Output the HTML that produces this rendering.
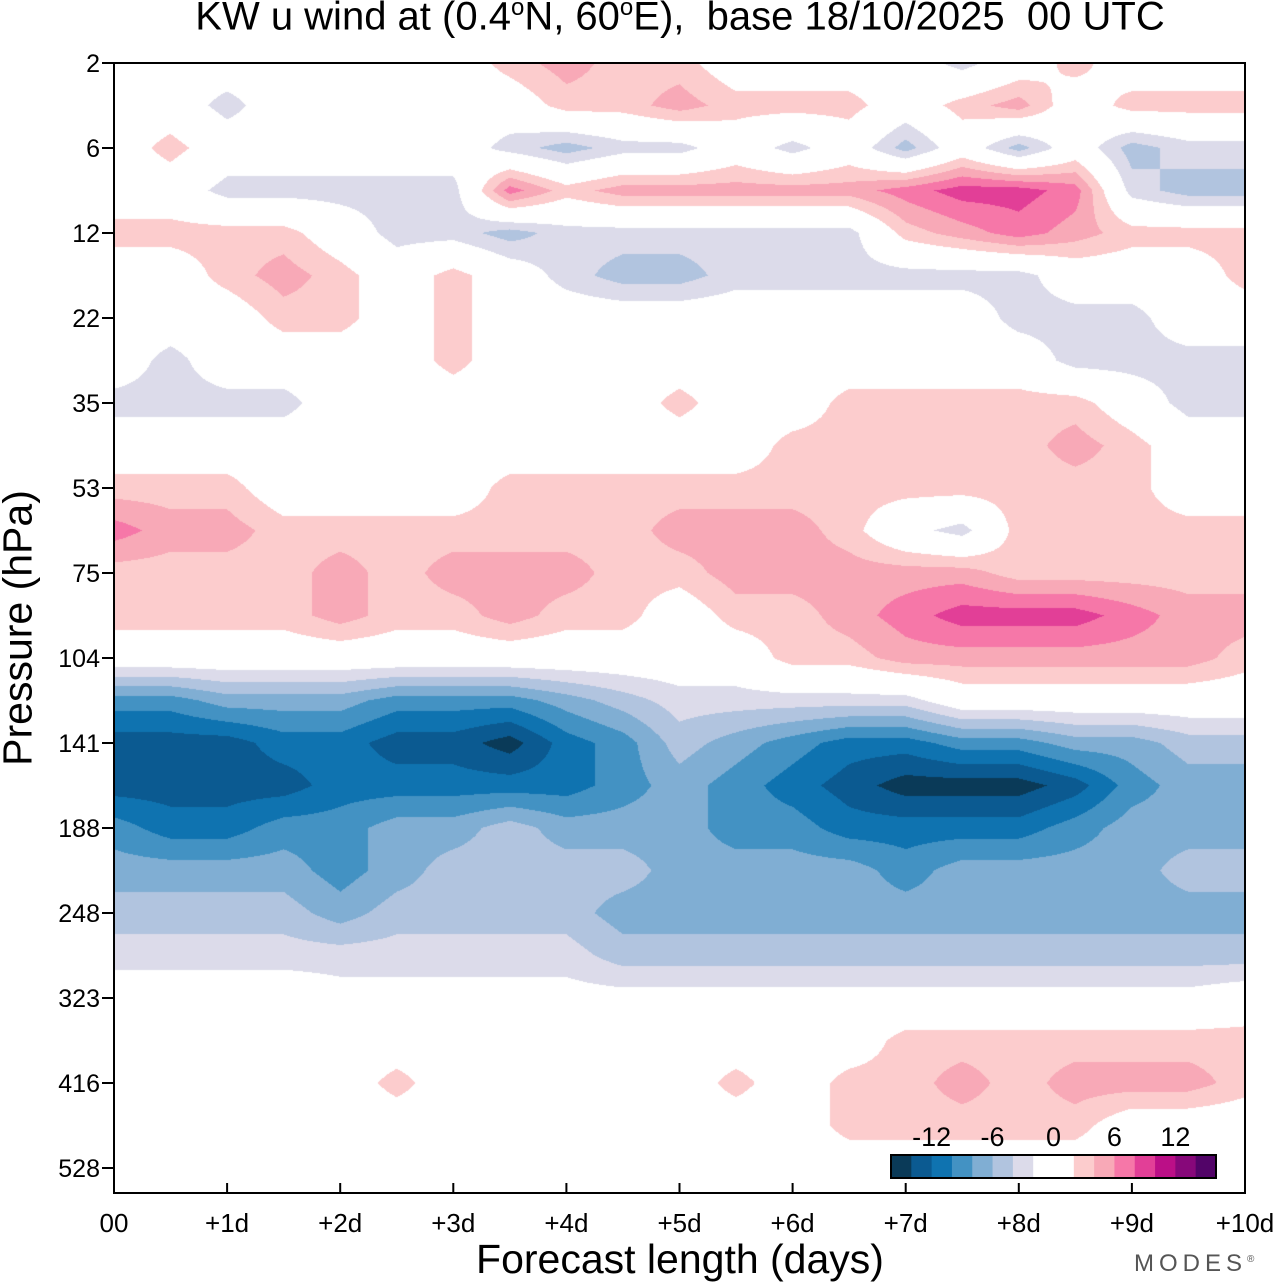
<!DOCTYPE html>
<html><head><meta charset="utf-8">
<style>
html,body{margin:0;padding:0;background:#fff;}
body{width:1280px;height:1286px;position:relative;overflow:hidden;font-family:"Liberation Sans",sans-serif;}
.t{position:absolute;white-space:nowrap;color:#000;}
</style></head>
<body>
<div class="t" style="left:0;width:1360px;text-align:center;top:-6px;font-size:40px;">KW u wind at (0.4<sup style="font-size:24px">o</sup>N, 60<sup style="font-size:24px">o</sup>E),&nbsp; base 18/10/2025&nbsp; 00 UTC</div>
<canvas id="cv" width="1131" height="1130" style="position:absolute;left:114px;top:63px;"></canvas>
<svg id="ax" width="1280" height="1286" style="position:absolute;left:0;top:0;"></svg>
<div class="t" style="left:18px;top:628px;font-size:41px;transform:translate(-50%,-50%) rotate(-90deg);transform-origin:center;">Pressure (hPa)</div>
<div class="t" style="left:680px;top:1236px;font-size:41px;transform:translateX(-50%);">Forecast length (days)</div>
<div class="t" style="left:1134px;top:1250px;font-size:24px;letter-spacing:5px;color:#555;">MODES<sup style="font-size:10px">®</sup></div>
<script>
const levelColors=["#0a3a58","#0b5a91","#0f73b0","#4392c3","#80aed3","#b1c4df","#dcdbea","#ffffff","#ffffff","#fccccd","#f8a9b7","#f677a8","#e23f97","#bb0f87","#87087a","#520468"];
const xTickLabels=["00","+1d","+2d","+3d","+4d","+5d","+6d","+7d","+8d","+9d","+10d"];
const yTickLabels=["2","6","12","22","35","53","75","104","141","188","248","323","416","528"];
const cbLabels=["-12","-6","0","6","12"];
const cbValues=[-12,-6,0,6,12];
// forecast times (days) for grid columns
const times=[0,0.5,1,1.5,2,2.5,3,3.5,4,4.5,5,5.5,6,6.5,7,7.5,8,8.5,9,9.5,10];
// rows are at pressure-axis positions (tick index units; 0=2hPa,1=6hPa,...)
const rowPos=[0,0.5,1,1.5,2,2.5,3,3.5,4,4.5,5,5.5,6,6.5,7,7.5,8,8.5,9,9.5,10,10.5,11,11.5,12,12.5,13,13.5];
const uWind=[
[0,0,0,0,0,0,0,3,5,3,3,0,0,0,0,-3,0,3,0,0,0],
[0,0,-3,0,0,0,0,0,3,3,5,3,3,3,0,3,5,0,3,3,3],
[0,3,0,0,0,0,0,-3,-5,-3,-3,0,-3,0,-5,0,-5,0,-5,-3,-3],
[0,0,-3,-3,-3,-3,-3,7,3,5,5,5,5,5,7,9,9,7,-3,-5,-5],
[3,3,3,3,0,-3,-3,-5,-3,-3,-3,-3,-3,-3,3,5,7,5,3,3,3],
[0,0,3,5,3,0,3,0,-3,-5,-5,-3,-3,-3,-3,-3,-3,0,0,0,3],
[0,0,0,3,3,0,3,0,0,0,0,0,0,0,0,0,-3,-3,-3,0,0],
[0,-3,0,0,0,0,3,0,0,0,0,0,0,0,0,0,0,-3,-3,-3,-3],
[-3,-3,-3,-3,0,0,0,0,0,0,3,0,0,3,3,3,3,3,0,-3,-3],
[0,0,0,0,0,0,0,0,0,0,0,0,3,3,3,3,3,5,3,0,0],
[3,3,3,0,0,0,0,3,3,3,3,3,3,3,3,3,3,3,3,0,0],
[7,5,5,3,3,3,3,3,3,3,5,5,5,3,-1,-3,3,3,3,3,3],
[3,3,3,3,5,3,5,5,5,3,3,5,5,5,5,5,3,3,3,3,3],
[3,3,3,3,5,3,3,5,3,3,0,3,3,5,7,9,9,9,7,5,5],
[0,0,0,0,0,0,0,0,0,0,0,0,3,3,5,5,5,5,5,5,3],
[-9,-9,-7,-7,-7,-9,-9,-9,-7,-5,-3,-3,-3,-3,-3,0,0,0,0,0,0],
[-13,-13,-13,-11,-11,-13,-13,-15,-11,-9,-5,-7,-9,-11,-11,-9,-9,-7,-7,-5,-5],
[-13,-13,-13,-13,-11,-11,-11,-11,-11,-9,-7,-9,-11,-13,-15,-15,-15,-13,-9,-7,-7],
[-9,-11,-11,-9,-9,-7,-7,-5,-7,-7,-7,-9,-9,-11,-11,-11,-11,-9,-7,-7,-7],
[-7,-7,-7,-7,-9,-7,-5,-5,-5,-5,-7,-7,-7,-7,-9,-7,-7,-7,-7,-5,-5],
[-5,-5,-5,-5,-7,-5,-5,-5,-5,-7,-7,-7,-7,-7,-7,-7,-7,-7,-7,-7,-7],
[-3,-3,-3,-3,-3,-3,-3,-3,-3,-5,-5,-5,-5,-5,-5,-5,-5,-5,-5,-5,-5],
[0,0,0,0,-1,-1,-1,-1,-1,-1,-1,-1,-1,-1,-1,-1,-1,-1,-1,-1,0],
[0,0,0,0,0,0,0,0,0,0,0,0,0,0,3,3,3,3,3,3,3],
[0,0,0,0,0,3,0,0,0,0,0,3,0,3,3,5,3,5,5,5,3],
[0,0,0,0,0,0,0,0,0,0,0,0,0,3,3,3,3,3,0,0,0],
[0,0,0,0,0,0,0,0,0,0,0,0,0,0,0,0,0,0,0,0,0],
[0,0,0,0,0,0,0,3,0,0,0,0,0,0,3,0,0,0,0,0,0]
];
const X0=114,X1=1245,Y0=63,YSTEP=85,YB=1193;
function xScale(d){return X0+(X1-X0)*d/10;}
function yScale(i){return Y0+YSTEP*i;}
function colorFor(v){let k=Math.floor((v+16)/2);k=Math.max(0,Math.min(15,k));return levelColors[k];}
function hex(c){return [parseInt(c.substr(1,2),16),parseInt(c.substr(3,2),16),parseInt(c.substr(5,2),16)];}
(function(){
 const cv=document.getElementById('cv'),ctx=cv.getContext('2d');
 const W=cv.width,H=cv.height,img=ctx.createImageData(W,H);
 const xs=times.map(xScale), ys=rowPos.map(yScale);
 for(let py=0;py<H;py++){
  const y=py+Y0+0.5;
  let r=0;while(r<ys.length-2&&ys[r+1]<y)r++;
  let fy=(y-ys[r])/(ys[r+1]-ys[r]);fy=Math.max(0,Math.min(1,fy));
  for(let px=0;px<W;px++){
   const x=px+X0+0.5;
   let c=Math.min(times.length-2,Math.max(0,Math.floor((x-xs[0])/(xs[1]-xs[0]))));
   let fx=(x-xs[c])/(xs[c+1]-xs[c]);fx=Math.max(0,Math.min(1,fx));
   const v=(uWind[r][c]*(1-fx)+uWind[r][c+1]*fx)*(1-fy)+(uWind[r+1][c]*(1-fx)+uWind[r+1][c+1]*fx)*fy;
   const col=hex(colorFor(v));const o=(py*W+px)*4;
   img.data[o]=col[0];img.data[o+1]=col[1];img.data[o+2]=col[2];img.data[o+3]=255;
  }
 }
 ctx.putImageData(img,0,0);
})();
(function(){
 const NS='http://www.w3.org/2000/svg',svg=document.getElementById('ax');
 function mk(t,a,txt){const e=document.createElementNS(NS,t);for(const k in a)e.setAttribute(k,a[k]);if(txt!==undefined)e.textContent=txt;svg.appendChild(e);return e;}
 let e=mk('rect',{x:X0,y:Y0,width:X1-X0,height:YB-Y0,fill:'none',stroke:'#000','stroke-width':2});
 
 
 xTickLabels.forEach((l,i)=>{const x=xScale(i);
  let t=mk('line',{x1:x,x2:x,y1:YB,y2:YB-10,stroke:'#000','stroke-width':2});
  
  
  let s=mk('text',{x:x,y:YB+39,'text-anchor':'middle','font-size':26,'font-family':'Liberation Sans, sans-serif'},l);
  
  
 });
 yTickLabels.forEach((l,i)=>{const y=yScale(i);
  let t=mk('line',{x1:X0,x2:X0-12,y1:y,y2:y,stroke:'#000','stroke-width':2});
  
  
  let s=mk('text',{x:X0-14,y:y+9,'text-anchor':'end','font-size':25,'font-family':'Liberation Sans, sans-serif'},l);
  
  
 });
 const cbx=891,cbw=325,cby=1155,cbh=23,sw=cbw/16;
 levelColors.forEach((c,i)=>{
  let r=mk('rect',{x:cbx+i*sw,y:cby,width:sw+0.5,height:cbh,fill:c});
  
  
 });
 let b=mk('rect',{x:cbx,y:cby,width:cbw,height:cbh,fill:'none',stroke:'#000','stroke-width':2});
 
 
 cbLabels.forEach((l,i)=>{const x=cbx+(cbValues[i]+16)/32*cbw;
  let s=mk('text',{x:x,y:cby-9,'text-anchor':'middle','font-size':27,'font-family':'Liberation Sans, sans-serif'},l);
  
  
 });
})();
</script>
</body></html>
